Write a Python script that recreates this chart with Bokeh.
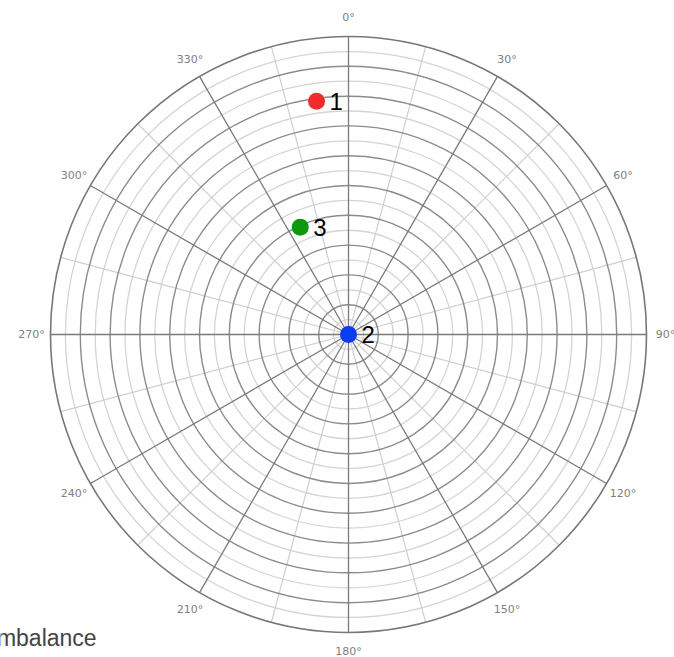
import numpy as np
from bokeh.plotting import figure
from bokeh.models import Range1d, Label
from bokeh.core.properties import value
from bokeh.embed import file_html
from bokeh.resources import INLINE

# ---- data ----
point_labels = ["1", "2", "3"]
point_r = [7.9, 0.0, 3.95]          # radial value
point_theta = [352.2, 0.0, 335.8]   # degrees, clockwise from top
point_colors = ["#f22b2b", "#0a3cf0", "#0d980d"]
r_max = 10.0
ring_values = [i * 0.5 for i in range(1, 21)]
angle_ticks = list(range(0, 360, 30))
angle_tick_labels = [f"{a}\u00b0" for a in angle_ticks]
minor_angles = list(range(15, 360, 30))
title_text = "Imbalance"

# ---- layout (pixels) ----
W, H = 674, 657
cx_px, cy_px = 348, 334   # centre in canvas pixels (from left, from top)
px_per_unit = 29.8

p = figure(width=W, height=H, output_backend="svg", toolbar_location=None,
           x_range=Range1d(-cx_px / px_per_unit, (W - cx_px) / px_per_unit),
           y_range=Range1d(-(H - cy_px) / px_per_unit, cy_px / px_per_unit),
           min_border=0, outline_line_color=None)
p.axis.visible = False
p.grid.visible = False
p.background_fill_color = "white"
p.border_fill_color = "white"


def pol(r, deg):
    t = np.deg2rad(np.asarray(deg, dtype=float))
    r = np.asarray(r, dtype=float)
    return r * np.sin(t), r * np.cos(t)


# light rings (half steps)
light = [v for v in ring_values if abs(v - round(v)) > 1e-9]
dark = [v for v in ring_values if abs(v - round(v)) < 1e-9 and v < r_max]
p.circle(x=[0] * len(light), y=[0] * len(light), radius=light,
         fill_color=None, line_color="#d4d4d4", line_width=1.3)

# minor spokes
mx, my = pol([r_max] * len(minor_angles), minor_angles)
p.segment(x0=[0] * len(minor_angles), y0=[0] * len(minor_angles), x1=mx, y1=my,
          line_color="#cfcfcf", line_width=1.2)

# dark rings
p.circle(x=[0] * len(dark), y=[0] * len(dark), radius=dark,
         fill_color=None, line_color="#8c8c8c", line_width=1.4)

# major spokes
ax, ay = pol([r_max] * len(angle_ticks), angle_ticks)
p.segment(x0=[0] * len(angle_ticks), y0=[0] * len(angle_ticks), x1=ax, y1=ay,
          line_color="#7a7a7a", line_width=1.3)

# outer ring
p.circle(x=[0], y=[0], radius=[r_max], fill_color=None,
         line_color="#777777", line_width=1.6)

# angle labels
lx, ly = pol([r_max * 1.064] * len(angle_ticks), angle_ticks)
p.text(x=lx, y=ly, text=angle_tick_labels, text_align="center",
       text_baseline="middle", text_font=value("DejaVu Sans"),
       text_font_size="11px", text_color="#808080")

# points
px_, py_ = pol(point_r, point_theta)
p.scatter(x=px_, y=py_, size=17, fill_color=point_colors, line_color=None)
p.text(x=px_, y=py_, text=point_labels, x_offset=13, text_align="left",
       text_baseline="middle", text_font=value("Liberation Sans"),
       text_font_size="24px", text_color="black")

p.add_layout(Label(x=-10, y=20, x_units="screen", y_units="screen",
                   text=title_text, text_font="Liberation Sans",
                   text_font_size="23px", text_color="#444444",
                   text_baseline="alphabetic"))

open("out.html", "w").write(file_html(p, INLINE))
